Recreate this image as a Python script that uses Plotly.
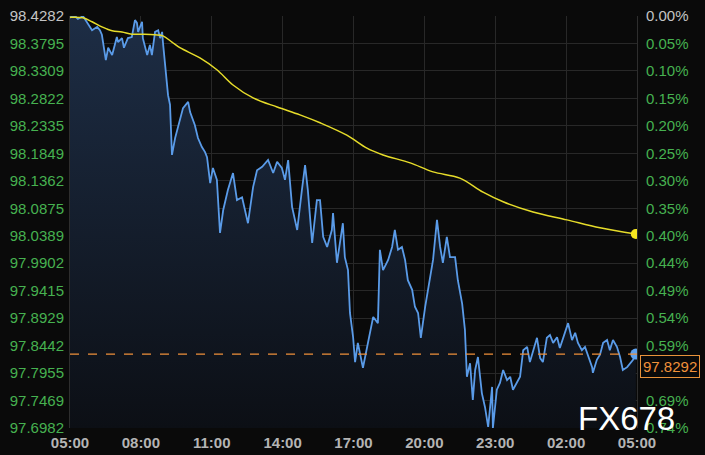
import pandas as pd
import plotly.graph_objects as go

# ---- data ----
price_times = [
    "05:00","05:05","05:13","05:20","05:33","05:43","05:56","06:09","06:16","06:21",
    "06:26","06:31","06:37","06:47","06:59","07:02","07:12","07:17","07:27","07:37",
    "07:45","07:50","07:53","08:03","08:05","08:16","08:23","08:28","08:36","08:44",
    "08:49","08:54","08:56","09:01","09:06","09:09","09:14","09:19","09:27","09:39",
    "09:47","10:00","10:05","10:17","10:25","10:35","10:43","10:48","10:56","11:03",
    "11:13","11:21","11:29","11:41","11:54","12:04","12:17","12:32","12:45","12:55",
    "13:08","13:23","13:36","13:46","13:58","14:06","14:14","14:24","14:37","14:49",
    "14:57","15:04","15:15","15:27","15:35","15:43","15:53","16:05","16:08","16:18",
    "16:33","16:38","16:46","16:51","16:59","17:04","17:11","17:24","17:37","17:50",
    "18:02","18:07","18:15","18:28","18:38","18:45","18:53","19:03","19:11","19:18",
    "19:29","19:36","19:44","19:51","20:02","20:14","20:22","20:32","20:40","20:47",
    "20:57","21:05","21:18","21:25","21:36","21:43","21:48","21:56","22:03","22:09",
    "22:16","22:26","22:34","22:42","22:52","22:54","23:04","23:12","23:20","23:30",
    "23:38","23:45","23:55","00:03","00:11","00:21","00:28","00:36","00:46","00:54",
    "01:01","01:11","01:19","01:27","01:37","01:44","01:57","02:05","02:15","02:23",
    "02:30","02:40","02:48","02:56","03:06","03:08","03:18","03:26","03:34","03:44",
    "03:51","03:59","04:09","04:17","04:24","04:35","04:42","04:50","04:57",
]
price_values = [
    98.425,98.428,98.428,98.423,98.428,98.416,98.403,98.409,98.403,98.395,
    98.373,98.350,98.372,98.359,98.391,98.382,98.389,98.372,98.389,98.391,
    98.421,98.416,98.400,98.418,98.389,98.359,98.377,98.359,98.400,98.403,
    98.389,98.400,98.382,98.347,98.311,98.288,98.271,98.182,98.212,98.247,
    98.265,98.276,98.258,98.235,98.212,98.196,98.187,98.178,98.132,98.159,
    98.138,98.044,98.084,98.120,98.150,98.102,98.107,98.061,98.125,98.155,
    98.161,98.173,98.150,98.170,98.159,98.138,98.173,98.090,98.049,98.120,
    98.164,98.120,98.026,98.102,98.102,98.037,98.019,98.049,98.079,97.991,
    98.061,98.001,97.978,97.902,97.859,97.815,97.849,97.805,97.849,97.895,
    97.884,98.014,97.978,97.996,98.019,98.049,98.014,98.019,97.996,97.960,
    97.943,97.913,97.902,97.858,97.913,97.960,97.996,98.067,98.019,97.991,
    98.037,98.001,98.001,97.960,97.918,97.872,97.789,97.813,97.748,97.801,
    97.824,97.760,97.735,97.700,97.771,97.698,97.766,97.778,97.801,97.783,
    97.789,97.766,97.778,97.789,97.836,97.842,97.815,97.836,97.858,97.822,
    97.815,97.858,97.863,97.849,97.859,97.840,97.868,97.884,97.854,97.867,
    97.849,97.836,97.842,97.824,97.806,97.796,97.819,97.828,97.849,97.854,
    97.836,97.854,97.842,97.824,97.801,97.806,97.813,97.819,97.8292,
]
avg_times = [
    "05:00","05:33","05:56","06:21","06:47","07:12","07:37","08:10","08:36","08:56",
    "09:19","09:39","10:30","11:13","11:54","12:45","13:46","14:44","15:35","16:43",
    "17:34","18:15","19:24","20:22","21:30","22:29","23:20","00:36","02:02","03:26",
    "04:57",
]
avg_values = [
    98.426,98.425,98.418,98.409,98.402,98.400,98.396,98.396,98.395,98.393,
    98.382,98.372,98.354,98.333,98.306,98.283,98.267,98.253,98.239,98.217,
    98.194,98.182,98.168,98.152,98.141,98.116,98.099,98.081,98.067,98.053,
    98.042,
]
last_price = 97.8292
price_ticks = ["98.4282","98.3795","98.3309","98.2822","98.2335","98.1849","98.1362",
               "98.0875","98.0389","97.9902","97.9415","97.8929","97.8442","97.7955",
               "97.7469","97.6982"]
pct_ticks = ["0.00%","0.05%","0.10%","0.15%","0.20%","0.25%","0.30%","0.35%",
             "0.40%","0.44%","0.49%","0.54%","0.59%","","0.69%","0.74%"]
x_start, x_end = "2024-01-01 05:00", "2024-01-02 05:00"


def to_dt(times):
    out = []
    for t in times:
        ts = pd.Timestamp(f"2024-01-01 {t}")
        if ts.hour < 5:
            ts += pd.Timedelta(days=1)
        out.append(ts)
    return out


px = to_dt(price_times)
ax = to_dt(avg_times)
tick_vals = [float(v) for v in price_ticks]
y_lo, y_hi = tick_vals[-1], tick_vals[0]

GREEN = "#46b150"
GRAY = "#c4c4c4"
FONT = "Liberation Sans, Arial"
left_text = [f"<span style='color:{GRAY if i == 0 else GREEN}'>{t}</span>" for i, t in enumerate(price_ticks)]
right_text = [f"<span style='color:{GRAY if i == 0 else GREEN}'>{t}</span>" for i, t in enumerate(pct_ticks)]

fig = go.Figure()
fig.add_trace(go.Scatter(
    x=px, y=price_values, mode="lines",
    line=dict(color="#5a9be8", width=1.8),
    fill="tozeroy",
    fillgradient=dict(type="vertical", start=y_lo, stop=y_hi,
                      colorscale=[[0, "#0c0f15"], [1, "#1d2d45"]]),
    hoverinfo="skip", showlegend=False,
))
fig.add_trace(go.Scatter(
    x=ax, y=avg_values, mode="lines", line=dict(color="#e6dc2a", width=1.5, shape="spline"),
    showlegend=False, hoverinfo="skip",
))
fig.add_trace(go.Scatter(
    x=[ax[-1]], y=[avg_values[-1]], mode="markers",
    marker=dict(color="#f5e51f", size=10), showlegend=False, hoverinfo="skip",
))
fig.add_trace(go.Scatter(
    x=[px[-1]], y=[price_values[-1]], mode="markers",
    marker=dict(color="#5fa2f0", size=11), showlegend=False, hoverinfo="skip",
))
# invisible trace for right axis
fig.add_trace(go.Scatter(x=[px[0]], y=[y_hi], yaxis="y2", mode="markers",
                         marker=dict(opacity=0), showlegend=False, hoverinfo="skip"))

fig.add_shape(type="line", xref="paper", x0=0, x1=1, yref="y", y0=last_price, y1=last_price,
              line=dict(color="#f0903a", width=1.3, dash="dash"))
fig.add_annotation(xref="paper", x=1.0, xanchor="left", yref="y", y=last_price,
                   yanchor="top", yshift=-1,
                   text="97.8292", showarrow=False, xshift=3,
                   font=dict(family=FONT, size=15, color="#f0913a"),
                   bgcolor="#0a0a0a", bordercolor="#e8923a", borderwidth=1, borderpad=2)
fig.add_annotation(xref="paper", x=0.9806, xanchor="center", yref="paper", y=0.022,
                   yanchor="middle", text="FX678", showarrow=False,
                   font=dict(family=FONT, size=33, color="#ffffff"))

axis_font = dict(family=FONT, size=15)
fig.update_layout(
    width=705, height=455,
    margin=dict(l=70, r=68, t=16, b=27, autoexpand=False),
    paper_bgcolor="#0a0a0a", plot_bgcolor="#0a0a0a",
    xaxis=dict(range=[x_start, x_end], type="date", dtick=3 * 3600 * 1000,
               tick0=x_start, tickformat="%H:%M", showgrid=True, gridcolor="#282828",
               gridwidth=1, zeroline=False, showline=False, ticks="", automargin=False,
               tickfont=dict(family=FONT, size=15, color="#b4b4b4", weight="bold"),
               ticklabelstandoff=4),
    yaxis=dict(range=[y_lo, y_hi], tickvals=tick_vals, ticktext=left_text, automargin=False,
               showgrid=True, gridcolor="#282828", zeroline=False, showline=True,
               linecolor="#2e2e2e", ticks="", tickfont=axis_font, ticklabelstandoff=2),
    yaxis2=dict(range=[y_lo, y_hi], overlaying="y", side="right", tickvals=tick_vals,
                ticktext=right_text, showgrid=False, zeroline=False, showline=True,
                automargin=False,
                linecolor="#2e2e2e", ticks="", tickfont=axis_font, ticklabelstandoff=5),
)

fig.write_html("out.html", config={"displayModeBar": False},
               post_script="document.body.style.margin='0';")
